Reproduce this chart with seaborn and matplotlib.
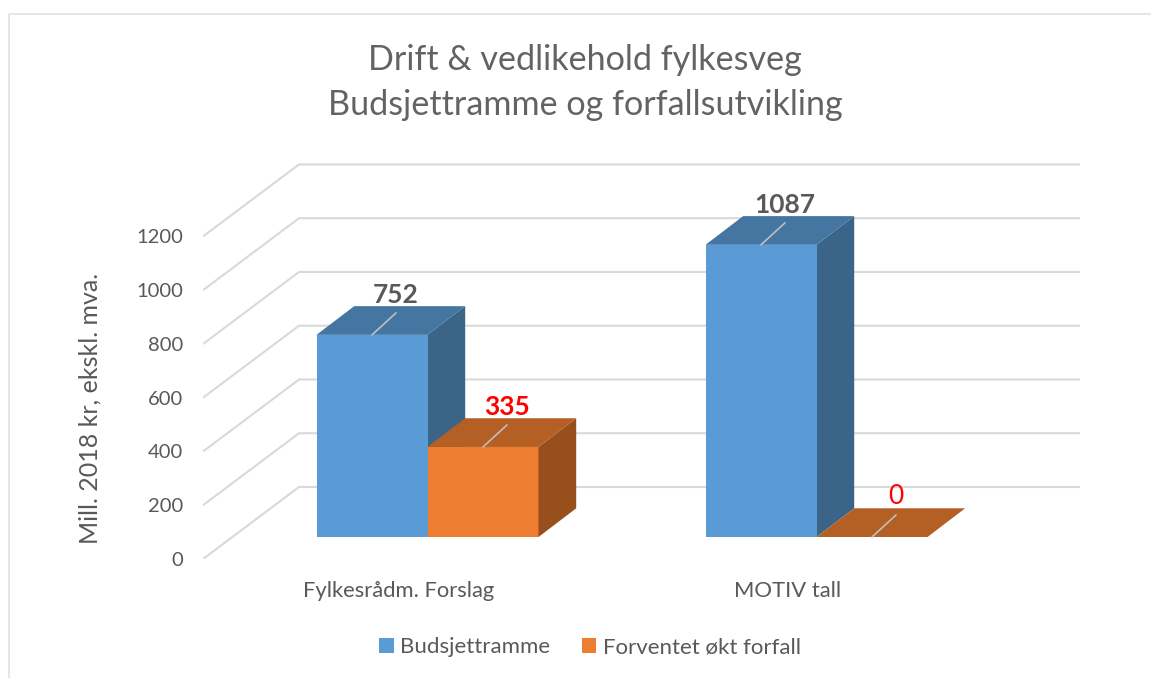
import numpy as np
import pandas as pd
import matplotlib
matplotlib.use("Agg")
import matplotlib.pyplot as plt
import seaborn as sns
from matplotlib.patches import Polygon

# data
categories = ["Fylkesrådm. Forslag", "MOTIV tall"]
series = ["Budsjettramme", "Forventet økt forfall"]
budsjett = [752, 1087]
forfall = [335, 0]
y_ticks = [0, 200, 400, 600, 800, 1000, 1200]

title = "Drift & vedlikehold fylkesveg\nBudsjettramme og forfallsutvikling"
ylabel = "Mill. 2018 kr, ekskl. mva."

df = pd.DataFrame({
    "kategori": categories * 2,
    "serie": [series[0]] * 2 + [series[1]] * 2,
    "verdi": budsjett + forfall,
})

# colours: front, top, side
front = ["#5B9BD5", "#ED7D31"]
top = ["#4575A1", "#B46024"]
side = ["#3A6488", "#974F1C"]
grid_col = "#D9D9D9"
text_col = "#595959"

# picture layout, in pixels
W, H = 1151, 678
px_left, px_right, px_bottom, px_top = 203, 1080, 559, 163
px_group0, px_step = 427.5, 389.0
px_base = 537.0
px_per_unit = 0.2688
bar_depth = (37.7, 28.7)  # how far the back of a bar is shifted
wall_depth = (96.0, 72.0)  # front of the side wall to the back wall

sns.set_theme(style="white")
plt.rcParams["font.family"] = ["Lato", "DejaVu Sans"]

fig = plt.figure(figsize=(W / 100, H / 100), dpi=100)
ax = fig.add_axes([px_left / W, 1 - px_bottom / H,
                   (px_right - px_left) / W, (px_bottom - px_top) / H])


def dx(px):
    return px / px_step


def dy(px):
    return px / px_per_unit


sns.barplot(data=df, x="kategori", y="verdi", hue="serie", palette=front,
            width=222 / px_step, gap=0, saturation=1, ax=ax, zorder=3,
            edgecolor="none", linewidth=0)

ax.set_xlim((px_left - px_group0) / px_step, (px_right - px_group0) / px_step)
ax.set_ylim(-dy(px_bottom - px_base), dy(px_base - px_top))

# the 3d room: side wall + back wall lines
wall_x0 = ax.get_xlim()[0]
wall_y0 = ax.get_ylim()[0]
for v in y_ticks:
    xs = [wall_x0, wall_x0 + dx(wall_depth[0]), ax.get_xlim()[1]]
    y_front = wall_y0 + v
    y_back = y_front + dy(wall_depth[1])
    ax.plot(xs, [y_front, y_back, y_back], color=grid_col, lw=1.5, zorder=1,
            solid_capstyle="butt", solid_joinstyle="miter")

# bar tops, sides, leader lines and value labels
ddx, ddy = dx(bar_depth[0]), dy(bar_depth[1])
for s, container in enumerate(ax.containers):
    for bar, val in zip(container, [budsjett, forfall][s]):
        x0 = bar.get_x()
        x1 = x0 + bar.get_width()
        h = bar.get_height()
        ax.add_patch(Polygon([(x1, 0), (x1 + ddx, ddy), (x1 + ddx, h + ddy), (x1, h)],
                             facecolor=side[s], edgecolor="none", zorder=2 + s))
        ax.add_patch(Polygon([(x0, h), (x0 + ddx, h + ddy), (x1 + ddx, h + ddy), (x1, h)],
                             facecolor=top[s], edgecolor="none", zorder=2.5 + 2 * s))
        xc = (x0 + x1) / 2
        ax.plot([xc, xc + dx(24)], [h, h + dy(22)], color="#BFBFBF", lw=1.2, zorder=6)
        col = text_col if s == 0 else "#FF0000"
        weight = "normal" if val == 0 else "bold"
        ax.text(xc + dx(24), h + dy(28), str(val), color=col, fontsize=19, fontweight=weight,
                ha="center", va="bottom", zorder=7)

# axis labels sit on the front of the side wall
ax.set_yticks([wall_y0 + v for v in y_ticks], labels=[str(v) for v in y_ticks])
ax.set_xticks(np.arange(len(categories)) - dx(29), labels=categories)
ax.tick_params(axis="y", length=0, pad=14.5, labelsize=14.5, labelcolor=text_col)
ax.tick_params(axis="x", length=0, pad=16, labelsize=15.8, labelcolor=text_col)
ax.set_xlabel("")
ax.set_ylabel(ylabel, fontsize=18, color=text_col)
ax.yaxis.set_label_coords((102 - px_left) / (px_right - px_left),
                          (px_bottom - 408) / (px_bottom - px_top))
for sp in ax.spines.values():
    sp.set_visible(False)
ax.patch.set_visible(False)
ax.grid(False)

fig.text(585 / W, 1 - 82.5 / H, title, ha="center", va="center", fontsize=24.6,
         color="#636363", linespacing=1.5)

# legend
handles, labels = ax.get_legend_handles_labels()
ax.get_legend().remove()
fig.legend(handles, labels, loc="center", bbox_to_anchor=(590 / W, 1 - 647 / H), ncol=2,
           frameon=False, fontsize=16, labelcolor=text_col, handlelength=0.65,
           handleheight=0.65, handletextpad=0.3, columnspacing=1.4)

# chart border, left and top only
fig.add_artist(plt.Line2D([9 / W, 9 / W, 1], [0, 1 - 14 / H, 1 - 14 / H],
                          color="#E4E4E4", lw=1.3))

fig.savefig("out.png", dpi=100)
